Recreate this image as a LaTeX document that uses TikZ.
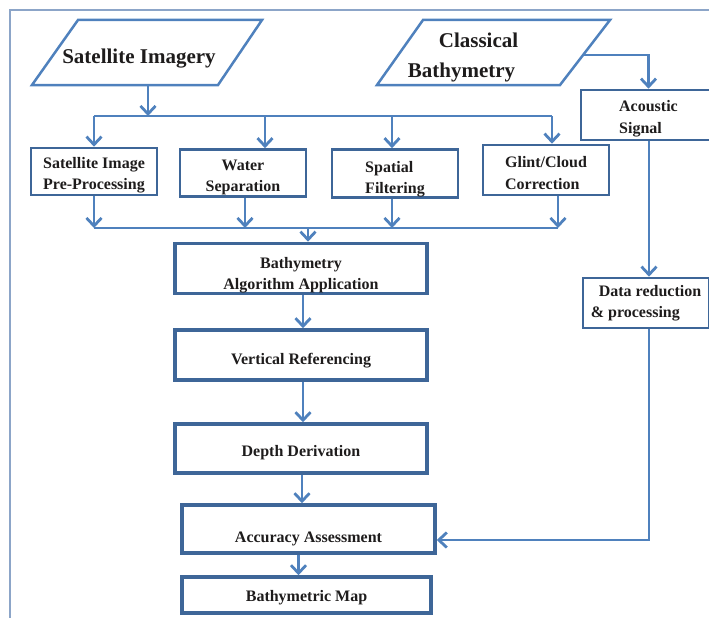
\documentclass[tikz,border=0pt]{standalone}
\usepackage{fontspec}
\setmainfont{Liberation Serif}
\usetikzlibrary{arrows.meta}
\definecolor{arrowc}{RGB}{79,129,189}
\definecolor{boxc}{RGB}{62,102,152}
\definecolor{framec}{RGB}{140,165,200}
\definecolor{txtc}{RGB}{30,28,28}
\newcommand{\myStrut}[1]{\rule{0pt}{#1pt}}
\begin{document}
\begin{tikzpicture}[x=1pt,y=-1pt,
  arr/.style={draw=arrowc, line width=2.8pt, -{Straight Barb[length=8pt,width=15pt]}},
  conn/.style={draw=arrowc, line width=2.8pt},
  boxtext/.style={font=\fontsize{16}{21.5}\selectfont\bfseries, text=txtc, inner sep=0pt},
  bigbox/.style={boxtext, draw=boxc, line width=3.5pt, minimum width=252pt, minimum height=49pt, align=center},
  smallbox/.style={boxtext, draw=boxc, line width=2.6pt, minimum width=126pt, minimum height=47pt, align=center},
  para/.style={draw=arrowc, line width=2.5pt, line join=miter},
  ptext/.style={font=\fontsize{21}{30}\selectfont\bfseries, text=txtc, inner sep=0pt},
  framel/.style={draw=framec, line width=1.8pt}
]
\useasboundingbox (0,0) rectangle (709,618);
% outer frame
\draw[framel] (10,650) -- (10,10) -- (730,10);

% input parallelograms
\draw[para] (78,20) -- (262,20) -- (218,85) -- (32,85) -- cycle;
\node[ptext] (sat) at (139,59) {Satellite Imagery};
\draw[para] (423,20) -- (610,20) -- (560,85) -- (377,85) -- cycle;
\node[ptext, align=left] (clas) at (463,57) {\hspace*{31pt}Classical\\Bathymetry};

% second row
\node[smallbox] (pre) at (94,171.5) {\myStrut{19}Satellite Image\\Pre-Processing};
\node[smallbox] (water) at (243,173) {\myStrut{19}Water\\Separation};
\node[smallbox, align=left] (spat) at (395,173.5) {\myStrut{23}Spatial\\Filtering};
\node[smallbox, align=left, minimum height=50pt] (glint) at (546,170) {\myStrut{17}Glint/Cloud\\Correction};

% right column
\node[smallbox, align=left, minimum width=135pt, minimum height=50pt] (acou) at (648.5,115) {\myStrut{19}Acoustic\\Signal};
\node[smallbox, align=left, minimum width=126pt, minimum height=50pt] (data) at (646,303) {\hspace*{8pt}Data reduction\\\& processing};

% main column
\node[bigbox] (bathy) at (301,268.5) {\myStrut{25}Bathymetry\\Algorithm Application};
\node[bigbox, minimum height=50pt] (vref) at (301,355) {\myStrut{23}Vertical Referencing};
\node[bigbox] (depth) at (301,448.5) {\myStrut{19}Depth Derivation};
\node[bigbox, minimum width=253pt, minimum height=48pt, text height=31pt, text depth=3.5pt] (acc) at (308.5,529) {Accuracy Assessment};
\node[bigbox, minimum width=249pt, minimum height=36pt] (map) at (306.5,595) {\myStrut{17}Bathymetric Map};

% coordinates
\coordinate (satout) at (148,85);
\coordinate (split) at (148,116);
\coordinate (clasout) at (583,55);
\coordinate (merge) at (308,228);
\coordinate (turn) at (649,540);

% distribution bus
\draw[arr] (satout) -- (split);
\draw[conn] (pre.north |- split) -- ([xshift=6pt]glint.north |- split);
\draw[arr] (pre.north |- split) -- (pre.north);
\draw[arr] ([xshift=22pt]water.north |- split) -- ([xshift=22pt]water.north);
\draw[arr] ([xshift=-3pt]spat.north |- split) -- ([xshift=-3pt]spat.north);
\draw[arr] ([xshift=6pt]glint.north |- split) -- ([xshift=6pt]glint.north);

% merge bus
\draw[arr] (pre.south) -- (pre.south |- merge);
\draw[arr] ([xshift=2pt]water.south) -- ([xshift=2pt]water.south |- merge);
\draw[arr] ([xshift=-3pt]spat.south) -- ([xshift=-3pt]spat.south |- merge);
\draw[arr] ([xshift=12pt]glint.south) -- ([xshift=12pt]glint.south |- merge);
\draw[conn] (pre.south |- merge) -- ([xshift=12pt]glint.south |- merge);
\draw[arr] (merge) -- (merge |- bathy.north);

% main chain
\draw[arr] ([xshift=2pt]bathy.south) -- ([xshift=2pt]vref.north);
\draw[arr] ([xshift=2pt]vref.south) -- ([xshift=2pt]depth.north);
\draw[arr] ([xshift=1pt]depth.south) -- ([xshift=1pt]depth.south |- acc.north);
\draw[arr] ([xshift=-10pt]acc.south) -- ([xshift=-10pt]acc.south |- map.north);

% classical branch
\draw[arr] (clasout) -- (clasout -| acou.north) -- (acou.north);
\draw[arr] (acou.south -| turn) -- (data.north -| turn);
\draw[arr] (data.south -| turn) -- (turn) -- (acc.east |- turn);
\end{tikzpicture}
\end{document}
